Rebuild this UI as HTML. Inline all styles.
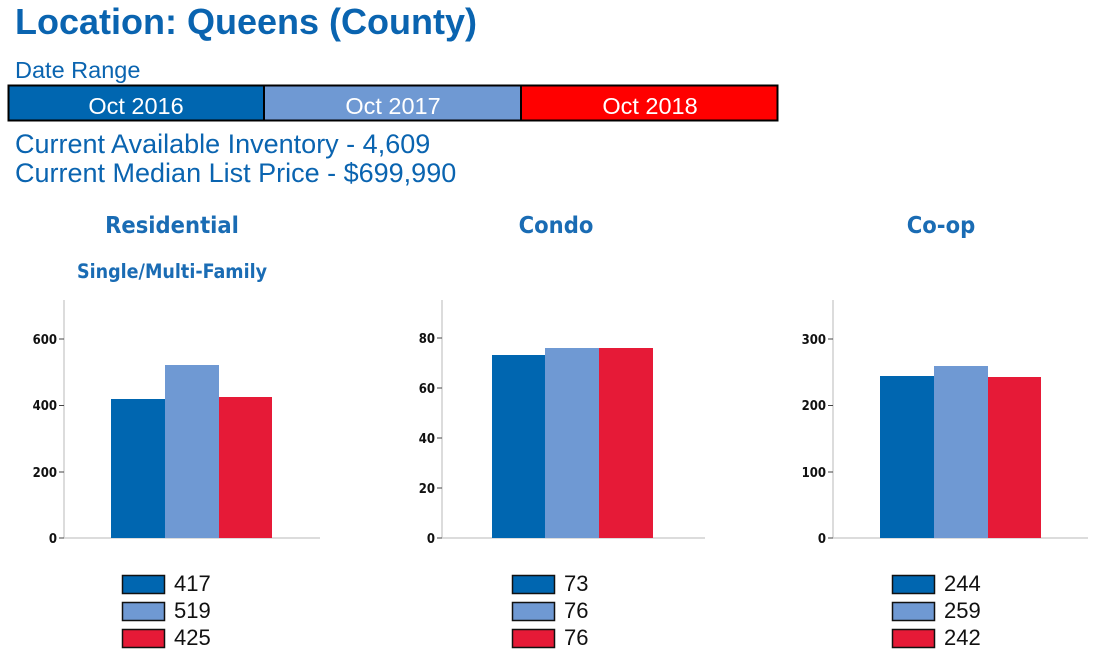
<!DOCTYPE html>
<html><head><meta charset="utf-8"><style>
body{margin:0;background:#fff;width:1095px;height:661px;overflow:hidden}
svg{display:block}
</style></head><body>
<svg width="1095" height="661" viewBox="0 0 1095 661" font-family="Liberation Sans, sans-serif">
<text x="15" y="34" font-size="36" font-weight="bold" fill="#0a64b0">Location: Queens (County)</text>
<text x="15" y="78" font-size="23.5" fill="#0a64b0">Date Range</text>
<rect x="8" y="85" width="256" height="36" fill="#0066b0"/>
<rect x="264" y="85" width="257" height="36" fill="#6f99d3"/>
<rect x="521" y="85" width="257" height="36" fill="#ff0000"/>
<rect x="8.5" y="85.5" width="769" height="35" fill="none" stroke="#000" stroke-width="2"/>
<line x1="264" y1="85" x2="264" y2="121" stroke="#000" stroke-width="2"/>
<line x1="521" y1="85" x2="521" y2="121" stroke="#000" stroke-width="2"/>
<g font-size="23.5" fill="#fff" text-anchor="middle">
<text x="136" y="114">Oct 2016</text><text x="393" y="114">Oct 2017</text><text x="650" y="114">Oct 2018</text></g>
<text x="15" y="153" font-size="27" fill="#0a64b0">Current Available Inventory - 4,609</text>
<text x="15" y="182" font-size="27" fill="#0a64b0">Current Median List Price - $699,990</text>
<g font-weight="bold" fill="#1a6cb4" text-anchor="middle" font-family="DejaVu Sans Condensed, DejaVu Sans, sans-serif">
<text x="172" y="233" font-size="23.5">Residential</text>
<text x="172" y="278" font-size="19.5">Single/Multi-Family</text>
<text x="556" y="233" font-size="23.5">Condo</text>
<text x="941" y="233" font-size="23.5">Co-op</text></g>
<g stroke="#d0d0d0" stroke-width="1.5">
<line x1="64" y1="300" x2="64" y2="538"/><line x1="64" y1="538" x2="320" y2="538"/>
<line x1="442" y1="300" x2="442" y2="538"/><line x1="442" y1="538" x2="705" y2="538"/>
<line x1="833" y1="300" x2="833" y2="538"/><line x1="833" y1="538" x2="1088" y2="538"/></g>
<g stroke="#444" stroke-width="1">
<line x1="59" y1="339" x2="64" y2="339"/><line x1="59" y1="405.5" x2="64" y2="405.5"/><line x1="59" y1="472" x2="64" y2="472"/><line x1="59" y1="538" x2="64" y2="538"/>
<line x1="437" y1="338" x2="442" y2="338"/><line x1="437" y1="388" x2="442" y2="388"/><line x1="437" y1="438" x2="442" y2="438"/><line x1="437" y1="488" x2="442" y2="488"/><line x1="437" y1="538" x2="442" y2="538"/>
<line x1="828" y1="339" x2="833" y2="339"/><line x1="828" y1="405.5" x2="833" y2="405.5"/><line x1="828" y1="472" x2="833" y2="472"/><line x1="828" y1="538" x2="833" y2="538"/></g>
<g font-size="13" font-weight="bold" fill="#111" text-anchor="end" font-family="DejaVu Sans Condensed, DejaVu Sans, sans-serif">
<text x="57" y="344">600</text><text x="57" y="410">400</text><text x="57" y="477">200</text><text x="57" y="543">0</text>
<text x="435" y="343">80</text><text x="435" y="393">60</text><text x="435" y="443">40</text><text x="435" y="493">20</text><text x="435" y="543">0</text>
<text x="826" y="344">300</text><text x="826" y="410">200</text><text x="826" y="477">100</text><text x="826" y="543">0</text></g>
<rect x="111" y="399" width="54" height="139" fill="#0066b0"/>
<rect x="165" y="365" width="54" height="173" fill="#6f99d3"/>
<rect x="219" y="397" width="53" height="141" fill="#e61a37"/>
<rect x="492" y="355" width="53" height="183" fill="#0066b0"/>
<rect x="545" y="348" width="54" height="190" fill="#6f99d3"/>
<rect x="599" y="348" width="54" height="190" fill="#e61a37"/>
<rect x="880" y="376" width="54" height="162" fill="#0066b0"/>
<rect x="934" y="366" width="54" height="172" fill="#6f99d3"/>
<rect x="988" y="377" width="53" height="161" fill="#e61a37"/>
<g stroke="#111" stroke-width="1.5">
<rect x="122.5" y="575.5" width="42" height="18" fill="#0066b0"/><rect x="122.5" y="602.5" width="42" height="18" fill="#6f99d3"/><rect x="122.5" y="629.5" width="42" height="18" fill="#e61a37"/>
<rect x="512.5" y="575.5" width="42" height="18" fill="#0066b0"/><rect x="512.5" y="602.5" width="42" height="18" fill="#6f99d3"/><rect x="512.5" y="629.5" width="42" height="18" fill="#e61a37"/>
<rect x="892.5" y="575.5" width="42" height="18" fill="#0066b0"/><rect x="892.5" y="602.5" width="42" height="18" fill="#6f99d3"/><rect x="892.5" y="629.5" width="42" height="18" fill="#e61a37"/></g>
<g font-size="22" fill="#111">
<text x="174" y="591">417</text><text x="174" y="618">519</text><text x="174" y="645">425</text>
<text x="564" y="591">73</text><text x="564" y="618">76</text><text x="564" y="645">76</text>
<text x="944" y="591">244</text><text x="944" y="618">259</text><text x="944" y="645">242</text></g>
</svg>
</body></html>
